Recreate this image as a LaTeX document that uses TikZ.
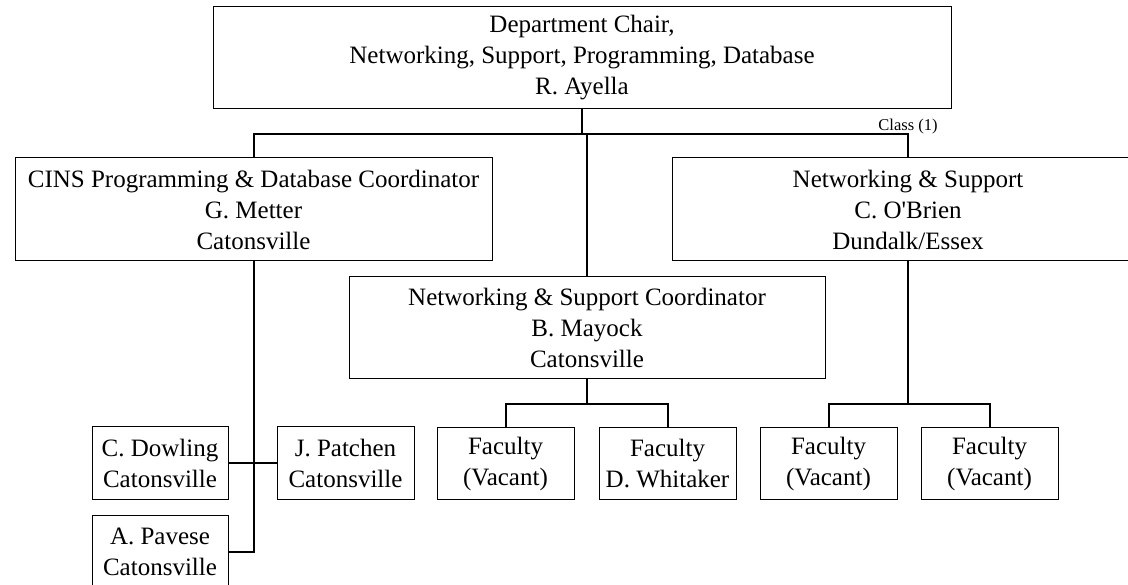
\documentclass[tikz,border=0pt]{standalone}
\usepackage{fontspec}
\setmainfont{Liberation Serif}[Ligatures=TeXOff]
\begin{document}
\begin{tikzpicture}[x=1pt,y=-1pt,
  box/.style={draw=black,line width=1pt,inner sep=0pt,align=center,font=\fontsize{25}{31}\selectfont},
  conn/.style={draw=black,line width=2pt},
  small/.style={font=\fontsize{16.5}{18}\selectfont,inner sep=0pt}]
\useasboundingbox (0,0) rectangle (1128,585);
\clip (0,0) rectangle (1128,585);
\fill[white] (0,0) rectangle (1128,585);
% boxes
\node[box,minimum width=738pt,minimum height=102pt] (chair) at (582,58)
  {Department Chair,\\Networking, Support, Programming, Database\\R. Ayella};
\node[box,minimum width=477pt,minimum height=103pt] (cins) at (253.5,209.5)
  {CINS Programming \& Database Coordinator\\G. Metter\\Catonsville};
\node[box,minimum width=472pt,minimum height=103pt] (obrien) at (908,209.5)
  {Networking \& Support\\C. O'Brien\\Dundalk/Essex};
\node[box,minimum width=476pt,minimum height=102pt] (mayock) at (587,328)
  {Networking \& Support Coordinator\\B. Mayock\\Catonsville};
\node[box,minimum width=137pt,minimum height=71pt] (f1) at (505.5,463.5) {Faculty\\(Vacant)};
\node[box,minimum width=137pt,minimum height=71pt] (f2) at (667.5,463.5) {Faculty\\D. Whitaker};
\node[box,minimum width=137pt,minimum height=71pt] (f3) at (828.5,463.5) {Faculty\\(Vacant)};
\node[box,minimum width=137pt,minimum height=71pt] (f4) at (989.5,463.5) {Faculty\\(Vacant)};
\node[box,minimum width=136pt,minimum height=72pt] (dowling) at (160,463) {C. Dowling\\Catonsville};
\node[box,minimum width=137pt,minimum height=72pt] (patchen) at (345.5,463) {J. Patchen\\Catonsville};
\node[box,minimum width=136pt,minimum height=74pt] (pavese) at (160,552) {A. Pavese\\Catonsville};
\node[small,anchor=base] (cls) at (908,131) {Class (1)};
% helper coordinates
\coordinate (bus) at (0,134);
\coordinate (brk) at (0,404);
% connectors
\draw[conn] (chair.south) -- (chair.south |- bus);
\draw[conn] (cins.north) |- (obrien.north |- bus) -- (obrien.north);
\draw[conn] (mayock.north) -- (mayock.north |- bus);
\draw[conn] (mayock.south) -- (mayock.south |- brk);
\draw[conn] (f1.north) |- (f2.north |- brk) -- (f2.north);
\draw[conn] (obrien.south) -- (obrien.south |- brk);
\draw[conn] (f3.north) |- (f4.north |- brk) -- (f4.north);
\draw[conn] (cins.south) |- (pavese.east);
\draw[conn] (dowling.east) -- (patchen.west);
\end{tikzpicture}
\end{document}
